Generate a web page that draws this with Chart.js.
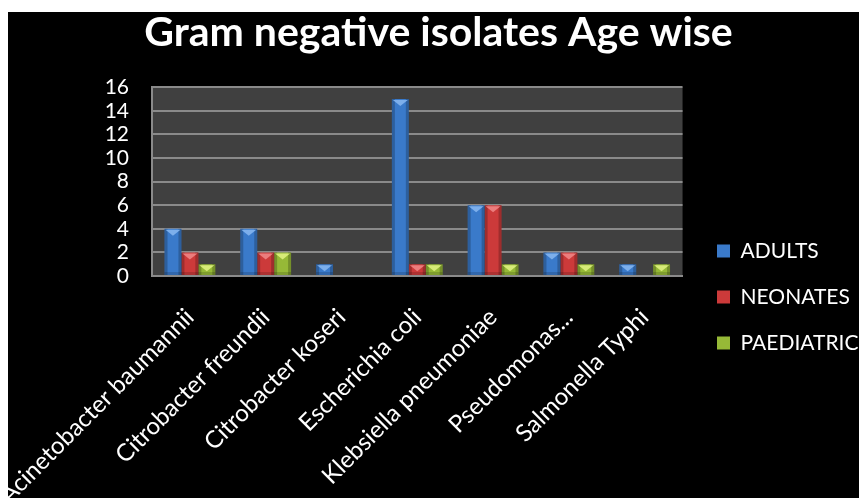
<!DOCTYPE html>
<html>
<head>
<meta charset="utf-8">
<script src="https://cdn.jsdelivr.net/npm/chart.js@4"></script>
<style>
  html, body { margin: 0; padding: 0; background: #fff; }
  #wrap { position: absolute; left: 8px; top: 12px; width: 851px; height: 486px; background: #000; }
</style>
</head>
<body>
<div id="wrap"><canvas id="isolatesChart" width="851" height="486"></canvas></div>
<script>
var categories = ['Acinetobacter baumannii', 'Citrobacter freundii', 'Citrobacter koseri',
  'Escherichia coli', 'Klebsiella pneumoniae', 'Pseudomonas...', 'Salmonella Typhi'];
var adults = [4, 4, 1, 15, 6, 2, 1];
var neonates = [2, 2, 0, 1, 6, 2, 0];
var paediatric = [1, 2, 0, 1, 1, 1, 1];
var yMax = 16;
var yStep = 2;

// top bevel colours, one per series
var bevel = ['rgb(125,175,235)', 'rgb(235,125,125)', 'rgb(215,235,120)'];

const plotBackground = {
  id: 'plotBackground',
  beforeDraw(chart) {
    const a = chart.chartArea;
    const ctx = chart.ctx;
    ctx.save();
    ctx.fillStyle = '#404040';
    ctx.fillRect(a.left, a.top, a.right - a.left, a.bottom - a.top);
    ctx.restore();
  }
};

// the little light chevron on top of each bar, and darker sides
const barBevel = {
  id: 'barBevel',
  afterDatasetsDraw(chart) {
    const ctx = chart.ctx;
    ctx.save();
    chart.data.datasets.forEach((ds, i) => {
      const meta = chart.getDatasetMeta(i);
      meta.data.forEach((bar) => {
        const p = bar.getProps(['x', 'y', 'base', 'width'], true);
        const h = p.base - p.y;
        if (h < 1) return;
        const l = p.x - p.width / 2, r = p.x + p.width / 2;
        ctx.fillStyle = 'rgba(0,0,0,0.22)';
        ctx.fillRect(l, p.y, 3, h);
        ctx.fillRect(r - 3, p.y, 3, h);
        ctx.fillStyle = 'rgba(0,0,0,0.15)';
        ctx.fillRect(l, p.base - 3, p.width, 3);
        ctx.fillStyle = bevel[i];
        ctx.beginPath();
        ctx.moveTo(l + 1, p.y + 1);
        ctx.lineTo(r - 1, p.y + 1);
        ctx.lineTo(p.x, p.y + Math.min(7, h - 1));
        ctx.closePath();
        ctx.fill();
      });
    });
    ctx.restore();
  }
};

// put the legend items where the original has them
const legendShift = {
  id: 'legendShift',
  afterLayout(chart) {
    const lg = chart.legend;
    const dx = 709 - (lg.left + lg.options.labels.padding);
    const dy = 42;
    lg.left += dx; lg.right += dx;
    lg.top += dy; lg.bottom += dy;
  }
};

const isolatesChart = new Chart(document.getElementById('isolatesChart'), {
  type: 'bar',
  data: {
    labels: categories,
    datasets: [
      { label: 'ADULTS', data: adults, backgroundColor: 'rgb(58,122,202)' },
      { label: 'NEONATES', data: neonates, backgroundColor: 'rgb(204,58,58)' },
      { label: 'PAEDIATRIC', data: paediatric, backgroundColor: 'rgb(150,185,55)' }
    ]
  },
  options: {
    responsive: false,
    animation: false,
    layout: { autoPadding: false, padding: { left: 10, right: 0, top: 0, bottom: 0 } },
    datasets: {
      bar: { categoryPercentage: 0.67, barPercentage: 1.0 }
    },
    scales: {
      x: {
        afterFit: (scale) => {
          scale.height = 222;
          scale.paddingLeft = 0;
          scale.paddingRight = 0;
        },
        grid: { display: false, drawTicks: false },
        border: { display: true, color: '#8a8a8a', width: 2 },
        ticks: {
          color: '#fff',
          font: { family: 'Lato', size: 24 },
          minRotation: 45,
          maxRotation: 45,
          autoSkip: false,
          padding: 27
        }
      },
      y: {
        min: 0,
        max: yMax,
        afterFit: (scale) => { scale.width = 134; },
        grid: { color: '#8a8a8a', lineWidth: 2, drawTicks: false },
        border: { display: true, color: '#8a8a8a', width: 2 },
        ticks: {
          stepSize: yStep,
          autoSkip: false,
          color: '#fff',
          font: { family: 'Lato', size: 21 },
          padding: 23
        }
      }
    },
    plugins: {
      title: {
        display: true,
        text: 'Gram negative isolates Age wise',
        color: '#fff',
        font: { family: 'Lato', size: 41, weight: 'bold' },
        padding: { top: -4, bottom: 30 }
      },
      legend: {
        position: 'right',
        maxWidth: 178,
        labels: {
          color: '#fff',
          font: { family: 'Lato', size: 21 },
          boxWidth: 13,
          boxHeight: 13,
          padding: 25
        }
      },
      tooltip: { enabled: false }
    }
  },
  plugins: [plotBackground, barBevel, legendShift]
});
</script>
</body>
</html>
